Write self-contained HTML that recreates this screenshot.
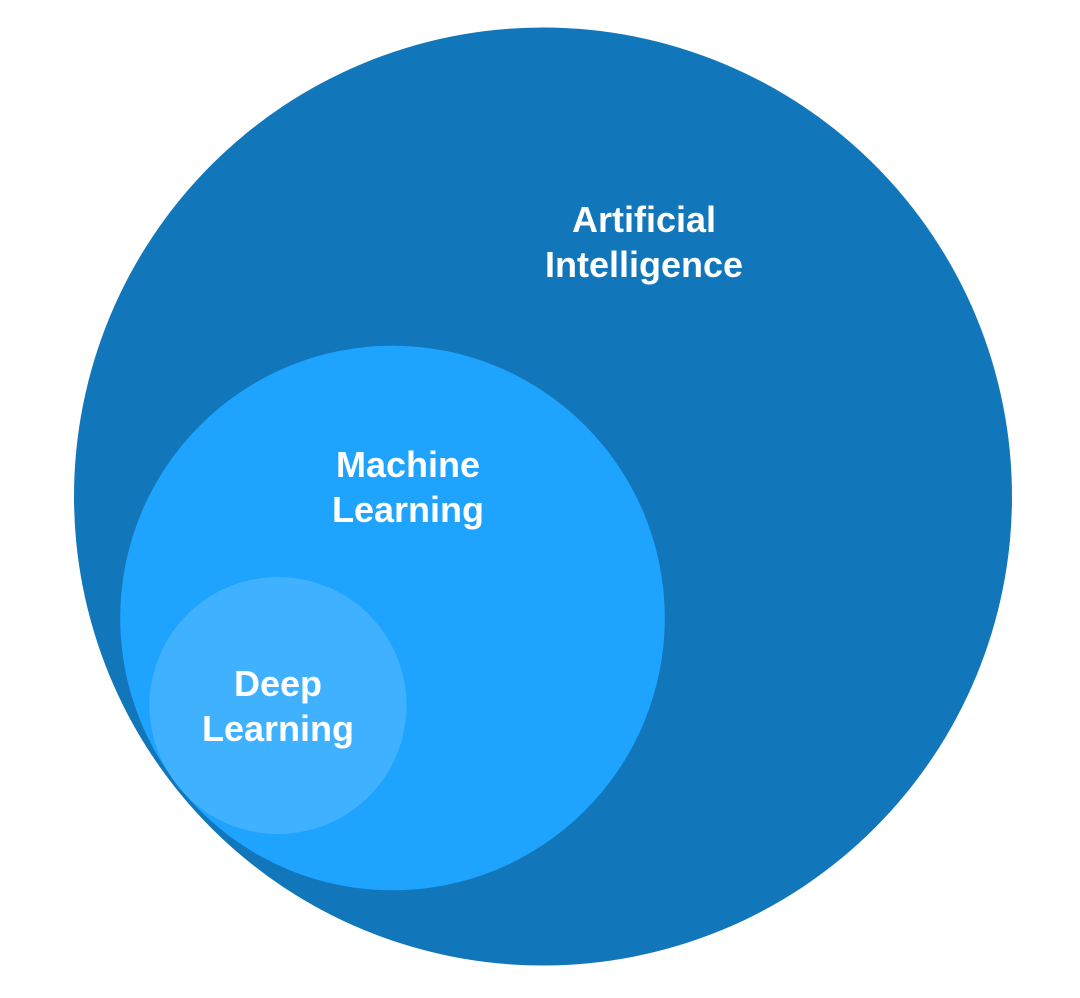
<!DOCTYPE html>
<html>
<head>
<meta charset="utf-8">
<style>
html,body{margin:0;padding:0;background:#fff;width:1080px;height:998px;overflow:hidden}
svg{display:block}
text{font-family:"Liberation Sans",sans-serif;font-weight:700;font-size:36px;fill:#fff;text-anchor:middle}
</style>
</head>
<body>
<svg width="1080" height="998" viewBox="0 0 1080 998" xmlns="http://www.w3.org/2000/svg">
<rect width="1080" height="998" fill="#fff"/>
<circle cx="543" cy="496.500" r="469" fill="#1277ba"/>
<circle cx="392.500" cy="618" r="272.300" fill="#1ea3ff"/>
<circle cx="278" cy="705.500" r="128.500" fill="#40b1ff"/>
<text x="644" y="232">Artificial</text>
<text x="644" y="277">Intelligence</text>
<text x="408" y="477">Machine</text>
<text x="408" y="522">Learning</text>
<text x="278" y="696">Deep</text>
<text x="278" y="741">Learning</text>
</svg>
</body>
</html>
